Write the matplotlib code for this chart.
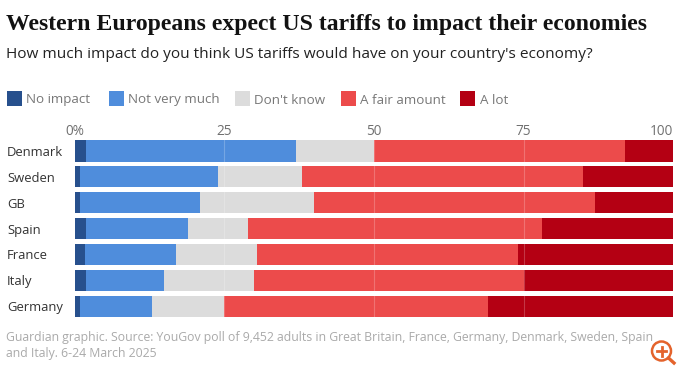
import matplotlib
matplotlib.use("Agg")
import matplotlib.pyplot as plt
from matplotlib.patches import Rectangle, Ellipse
from matplotlib.lines import Line2D

countries = ["Denmark", "Sweden", "GB", "Spain", "France", "Italy", "Germany"]
no_impact = [2, 1, 1, 2, 1.8, 2, 1]
not_very_much = [35, 23, 20, 17, 15.2, 13, 12]
dont_know = [13, 14, 19, 10, 13.4, 15, 12]
fair_amount = [42, 47, 47, 49, 43.6, 45, 44]
a_lot = [8, 15, 13, 22, 26, 25, 31]
series_names = ["No impact", "Not very much", "Don't know", "A fair amount", "A lot"]
colors = ["#27508d", "#4f8ddc", "#dcdcdc", "#ec4b4b", "#b40013"]
ticks = [0, 25, 50, 75, 100]
tick_labels = ["0%", "25", "50", "75", "100"]
W, H = 680, 369
plt.rcParams["font.family"] = ["Open Sans", "DejaVu Sans"]
fig = plt.figure(figsize=(W/100, H/100), dpi=100, facecolor="white")
ax = fig.add_axes([74.5/W, 1-319.2/H, 598.8/W, 181.3/H])
left = [0]*7
for name, vals, c in zip(series_names, [no_impact, not_very_much, dont_know, fair_amount, a_lot], colors):
    ax.barh(countries, vals, left=left, color=c, height=0.83, label=name, linewidth=0)
    left = [a+b for a, b in zip(left, vals)]
ax.set_xlim(0, 100)
ax.set_ylim(6.5, -0.5)
ax.xaxis.tick_top()
ax.set_xticks(ticks)
ax.set_xticklabels(tick_labels, fontsize=9.8, color="#707070")
ax.get_xticklabels()[-1].set_ha("right")
ax.tick_params(axis="x", length=0, pad=-1)
ax.tick_params(axis="y", length=0, pad=0, labelsize=9.4, labelcolor="#333333")
for l in ax.get_yticklabels():
    l.set_ha("left")
    l.set_x(-67.5/598.8)
for t in ticks[1:-1]:
    ax.axvline(t, color="white", alpha=0.22, lw=0.8, zorder=5)
for s in ax.spines.values():
    s.set_visible(False)
fig.text(6/W, 1-30/H, "Western Europeans expect US tariffs to impact their economies", fontsize=17.1, fontweight="bold", family=["Liberation Serif", "DejaVu Serif"], color="#121212", va="baseline")
fig.text(6/W, 1-58/H, "How much impact do you think US tariffs would have on your country's economy?", fontsize=11.1, color="#222222", va="baseline")
xs = [6.5, 108.7, 235, 340.5, 460]
for x, name, c in zip(xs, series_names, colors):
    fig.add_artist(Rectangle((x/W, 1-105.5/H), 15/W, 15/H, transform=fig.transFigure, color=c, lw=0))
    fig.text((x+19.5)/W, 1-103.5/H, name, fontsize=9.6, color="#777777", va="baseline")
fig.text(6/W, 1-341.5/H, "Guardian graphic. Source: YouGov poll of 9,452 adults in Great Britain, France, Germany, Denmark, Sweden, Spain", fontsize=8.82, color="#aaaaaa", va="baseline")
fig.text(6/W, 1-357/H, "and Italy. 6-24 March 2025", fontsize=8.82, color="#aaaaaa", va="baseline")
# zoom icon
orange = "#e4632c"
fig.add_artist(Ellipse((661.5/W, 1-351/H), 19/W, 19/H, transform=fig.transFigure, fill=False, ec=orange, lw=1.8))
fig.add_artist(Line2D([668.5/W, 674/W], [1-358/H, 1-363/H], transform=fig.transFigure, color=orange, lw=2.4))
fig.add_artist(Line2D([657/W, 666/W], [1-351/H, 1-351/H], transform=fig.transFigure, color=orange, lw=2))
fig.add_artist(Line2D([661.5/W, 661.5/W], [1-346.5/H, 1-355.5/H], transform=fig.transFigure, color=orange, lw=2))
fig.savefig("out.png", dpi=100)
